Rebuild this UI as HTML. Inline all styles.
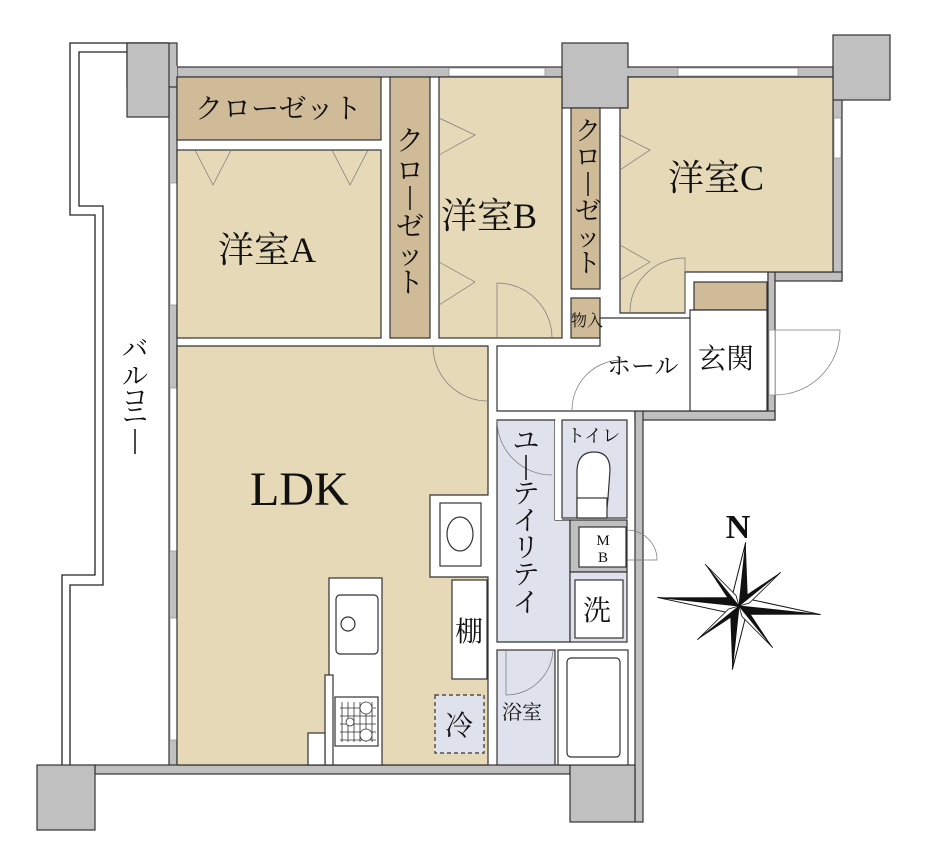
<!DOCTYPE html>
<html><head><meta charset="utf-8"><style>
html,body{margin:0;padding:0;background:#fff}
svg{display:block}
text{font-family:"Liberation Serif","Noto Serif CJK SC",serif;fill:#111}
</style></head><body>
<svg width="929" height="866" viewBox="0 0 929 866" xmlns="http://www.w3.org/2000/svg">
<g stroke="#222" stroke-width="1.3" fill="none">
<polyline points="168,43 70,43 70,215 95,215 95,575 62,575 62,765"/>
<polyline points="168,52 79,52 79,206 103,206 103,585 70,585 70,765"/>
</g>
<g fill="#c0c0c0" stroke="#333" stroke-width="1.2">
<rect x="169" y="67" width="664" height="10"/>
<rect x="169" y="77" width="8" height="692"/>
<rect x="95" y="765" width="475" height="9"/>
<rect x="833" y="90" width="9" height="191"/>
<rect x="768" y="272" width="74" height="9"/>
<rect x="768" y="272" width="7" height="148"/>
<rect x="635" y="411" width="140" height="9"/>
<rect x="635" y="411" width="8" height="411"/>
<rect x="127" y="43" width="50" height="44"/>
<rect x="127" y="43" width="42" height="74"/>
<rect x="562" y="43" width="66" height="65"/>
<rect x="833" y="35" width="57" height="65"/>
<rect x="37" y="765" width="58" height="65"/>
<rect x="570" y="765" width="65" height="57"/>
</g>
<g fill="#c0c0c0"><rect x="170" y="66" width="7" height="11"/><rect x="626" y="68" width="8" height="8"/></g>
<g fill="#fff" stroke="#999" stroke-width="0.8">
<rect x="170" y="183" width="7" height="122"/>
<rect x="170" y="388" width="7" height="163"/>
<rect x="170" y="618" width="7" height="122"/>
<rect x="449" y="68" width="96" height="8"/>
<rect x="678" y="68" width="120" height="8"/>
<rect x="834" y="118" width="7" height="40"/>
<rect x="769" y="330" width="6" height="65"/>
</g>
<g stroke="#333" stroke-width="1.2">
<rect x="177" y="77" width="204" height="63" fill="#cfbb98"/>
<rect x="177" y="150" width="204" height="188" fill="#e6d9b8"/>
<rect x="390" y="77" width="40" height="261" fill="#cfbb98"/>
<rect x="439" y="77" width="123" height="261" fill="#e6d9b8"/>
<rect x="571" y="108" width="29" height="181" fill="#cfbb98"/>
<rect x="571" y="298" width="29" height="40" fill="#cfbb98"/>
<polygon points="628,77 833,77 833,272 685,272 685,313 620,313 620,108 628,108" fill="#e6d9b8"/>
<rect x="694" y="282" width="73" height="28" fill="#cfbb98"/>
<polygon points="600,318 690,318 690,310 767,310 767,411 497,411 497,346 600,346" fill="#fff"/>
<line x1="690" y1="318" x2="690" y2="411"/>
<polygon points="177,346 488,346 488,495 430,495 430,577 488,577 488,765 177,765" fill="#e6d9b8"/>
<polygon points="497,420 555,420 555,520 570,520 570,642 497,642" fill="#dfe2ec"/>
<rect x="555" y="420" width="7" height="100" fill="#fff" stroke="none"/>
<rect x="562" y="420" width="65" height="98" fill="#dfe2ec"/>
<rect x="570" y="520" width="57" height="52" fill="#c0c0c0"/>
<rect x="579" y="527" width="47" height="40" fill="#fff"/>
<rect x="570" y="572" width="57" height="70" fill="#dfe2ec"/>
<rect x="575" y="580" width="48" height="58" fill="#fff"/>
<rect x="497" y="650" width="58" height="115" fill="#dfe2ec"/>
<rect x="558" y="650" width="70" height="115" fill="#fff"/>
<rect x="567" y="658" width="53" height="99" rx="4" fill="#fff"/>
<rect x="440" y="503" width="41" height="63" fill="#fff"/>
<ellipse cx="460" cy="534" rx="13" ry="17" fill="#fff"/>
<rect x="452" y="580" width="35" height="99" fill="#fff"/>
<rect x="329" y="578" width="53" height="187" fill="#fff"/>
<rect x="336" y="595" width="42" height="59" rx="4" fill="#fff"/>
<circle cx="348" cy="624" r="7" fill="#fff"/>
<rect x="335" y="697" width="43" height="49" fill="#fff"/>
<rect x="325" y="675" width="8" height="90" fill="#fff"/>
<rect x="308" y="733" width="17" height="32" fill="#fff"/>
<rect x="435" y="695" width="49" height="58" fill="#dfe2ec" stroke-dasharray="4,3"/>
<path d="M577,518 L577,470 Q578,452 594,452 Q610,452 610,470 L608,498 L606,518 Z" fill="#fff"/>
<rect x="577" y="498" width="30" height="20" fill="#fff"/>
</g>
<g stroke="#333" stroke-width="0.8" fill="none">
<path d="M342,702 V742 M348,702 V742 M354,702 V742 M360,702 V742 M366,702 V742 M372,702 V742 M340,708 H376 M340,716 H376 M340,724 H376 M340,732 H376 M340,740 H376"/>
<circle cx="366" cy="708" r="6" fill="#fff"/><circle cx="366" cy="735" r="6" fill="#fff"/><circle cx="350" cy="722" r="4" fill="#fff"/>
</g>
<g stroke="#777" stroke-width="0.7" fill="none">
<path d="M195,150 L213,185 L231,150 M332,150 L350,185 L368,150"/>
<path d="M439,118 L475,135 L439,155 M439,262 L475,282 L439,305"/>
<path d="M620,135 L650,150 L620,170 M620,245 L650,262 L620,280"/>
<path d="M497,338 V283 A55,55 0 0 1 552,338"/>
<path d="M630,313 A54,54 0 0 1 685,258 V313"/>
<path d="M433,346 A55,55 0 0 0 488,401"/>
<path d="M572,410 A50,50 0 0 1 622,360"/>
<path d="M775,330 H840 A65,65 0 0 1 775,395"/>
<path d="M497,420 A55,55 0 0 0 552,475"/>
<path d="M506,650 V695 A47,47 0 0 0 553,650"/>
<path d="M627,530 A30,30 0 0 1 657,560 H627"/>
</g>
<text x="195" y="118" font-size="28">クローゼット</text>
<text x="218" y="262" font-size="36">洋室A</text>
<text x="441" y="228" font-size="36">洋室B</text>
<text x="668" y="190" font-size="36">洋室C</text>
<text x="250" y="505" font-size="48">LDK</text>
<g font-size="28" text-anchor="middle">
<text x="410" y="150">ク</text><text x="410" y="180">ロ</text><text x="410" y="236">ゼ</text><text x="410" y="264">ッ</text><text x="410" y="292">ト</text>
</g>
<line x1="410" y1="186" x2="410" y2="210" stroke="#111" stroke-width="1.5"/>
<g font-size="26" text-anchor="middle">
<text x="588" y="140">ク</text><text x="588" y="166">ロ</text><text x="588" y="220">ゼ</text><text x="588" y="246">ッ</text><text x="588" y="272">ト</text>
</g>
<line x1="588" y1="172" x2="588" y2="196" stroke="#111" stroke-width="1.5"/>
<g font-size="26" text-anchor="middle">
<text x="135" y="358">バ</text><text x="135" y="385">ル</text><text x="135" y="407">コ</text><text x="135" y="424">ニ</text>
</g>
<line x1="135" y1="429" x2="135" y2="454" stroke="#111" stroke-width="1.5"/>
<g font-size="27" text-anchor="middle">
<text x="526" y="450">ユ</text><text x="526" y="503">テ</text><text x="526" y="530">イ</text><text x="526" y="557">リ</text><text x="526" y="584">テ</text><text x="526" y="612">イ</text>
</g>
<line x1="526" y1="455" x2="526" y2="480" stroke="#111" stroke-width="1.5"/>
<text x="571" y="326" font-size="16">物入</text>
<text x="607" y="374" font-size="24">ホール</text>
<text x="698" y="368" font-size="28">玄関</text>
<text x="567" y="442" font-size="18">トイレ</text>
<text x="603" y="545" font-size="15" text-anchor="middle">M</text>
<text x="603" y="562" font-size="15" text-anchor="middle">B</text>
<text x="583" y="620" font-size="28">洗</text>
<text x="455" y="641" font-size="28">棚</text>
<text x="445" y="735" font-size="28">冷</text>
<text x="502" y="719" font-size="20">浴室</text>
<text x="738" y="538" font-size="34" font-weight="bold" text-anchor="middle">N</text>
<g transform="translate(739,606) rotate(6)">
<polygon points="0,-64 8,-8 0,0" fill="#111"/><polygon points="0,-64 -8,-8 0,0" fill="#fff" stroke="#111" stroke-width="1"/>
<polygon points="0,64 -8,8 0,0" fill="#111"/><polygon points="0,64 8,8 0,0" fill="#fff" stroke="#111" stroke-width="1"/>
<polygon points="82,0 8,8 0,0" fill="#111"/><polygon points="82,0 8,-8 0,0" fill="#fff" stroke="#111" stroke-width="1"/>
<polygon points="-82,0 -8,-8 0,0" fill="#111"/><polygon points="-82,0 -8,8 0,0" fill="#fff" stroke="#111" stroke-width="1"/>
<polygon points="38,-38 4,-10 0,0" fill="#111"/><polygon points="38,-38 10,-4 0,0" fill="#fff" stroke="#111" stroke-width="0.8"/>
<polygon points="-38,38 -4,10 0,0" fill="#111"/><polygon points="-38,38 -10,4 0,0" fill="#fff" stroke="#111" stroke-width="0.8"/>
<polygon points="-38,-38 -10,-4 0,0" fill="#111"/><polygon points="-38,-38 -4,-10 0,0" fill="#fff" stroke="#111" stroke-width="0.8"/>
<polygon points="38,38 10,4 0,0" fill="#111"/><polygon points="38,38 4,10 0,0" fill="#fff" stroke="#111" stroke-width="0.8"/>
</g>
</svg>
</body></html>
